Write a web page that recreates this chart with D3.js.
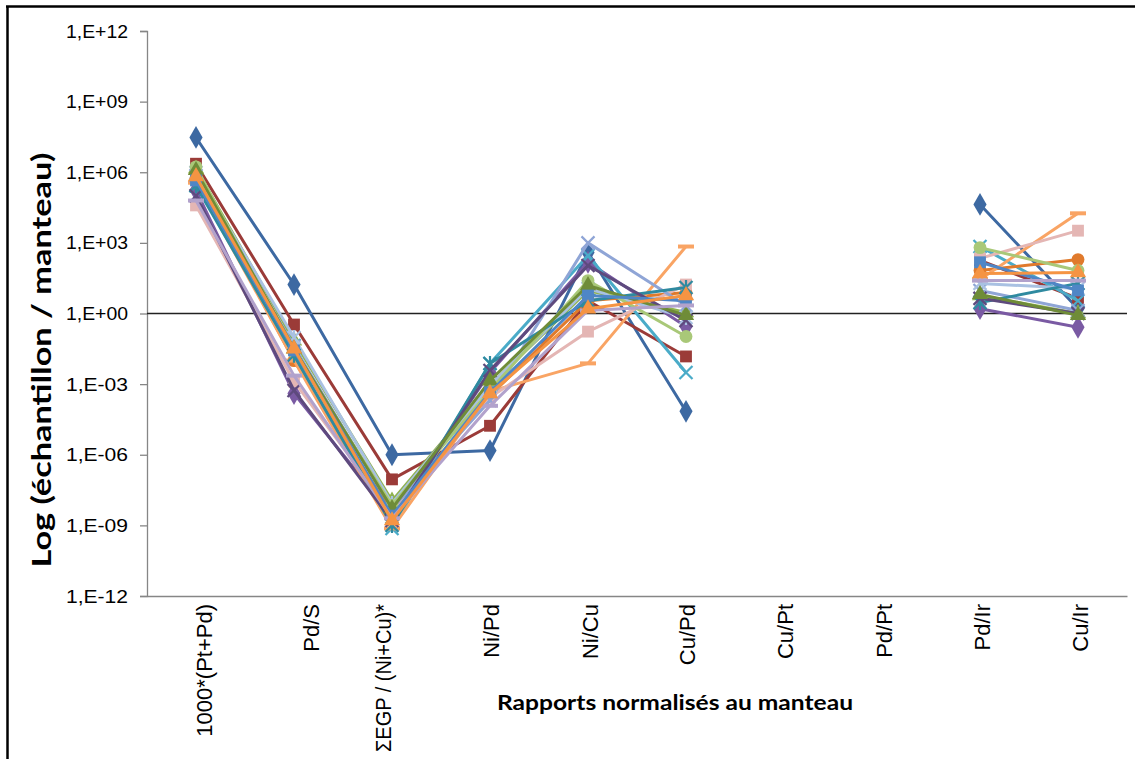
<!DOCTYPE html>
<html>
<head>
<meta charset="utf-8">
<script src="https://cdn.jsdelivr.net/npm/d3@7"></script>
<style>
  body { margin: 0; background: #fff; }
  svg { display: block; }
</style>
</head>
<body>
<div id="chart"></div>
<script>
// categories on the x axis
const categories = ["1000*(Pt+Pd)", "Pd/S", "ΣEGP / (Ni+Cu)*", "Ni/Pd", "Ni/Cu", "Cu/Pd", "Cu/Pt", "Pd/Pt", "Pd/Ir", "Cu/Ir"];

// y tick values and their labels
const yTicks = [1e-12, 1e-9, 1e-6, 1e-3, 1, 1e3, 1e6, 1e9, 1e12];
const yTickLabels = ["1,E-12", "1,E-09", "1,E-06", "1,E-03", "1,E+00", "1,E+03", "1,E+06", "1,E+09", "1,E+12"];

// one array per sample (Cu/Pt and Pd/Pt are empty)
const s01 = [3e7, 17, 1e-6, 1.5e-6, 390, 7e-5, null, null, 4.3e4, 1.6];
const s02 = [2.3e6, 0.34, 9e-8, 1.7e-5, 3.5, 0.015, null, null, 180, 4.4];
const s03 = [1.4e6, 0.07, 1.1e-8, 8.7e-4, 9.5, 1.1, null, null, 5.8, 1.0];
const s04 = [1.7e5, 4e-4, 2.6e-9, 3.1e-3, 150, 0.28, null, null, 1.6, 0.26];
const s05 = [2.7e5, 0.044, 7.4e-10, 7.5e-3, 290, 3.1e-3, null, null, 700, 3.5];
const s06 = [5.4e5, 0.01, 3.5e-9, 3.3e-4, 3.5, 7.8, null, null, 67, 195];
const s07 = [3.6e5, 0.01, 7.4e-10, 4.9e-4, 7.6e-3, 700, null, null, 28, 1.8e4];
const s08 = [3.9e4, 1.3e-3, 3.2e-9, 2.7e-4, 0.17, 17, null, null, 220, 3300];
const s09 = [7.2e5, 0.04, 5.2e-9, 2e-4, 1000, 2.2, null, null, 9.5, 1.35];
const s10 = [9.8e5, 0.095, 8.5e-9, 8.7e-4, 11.5, 0.68, null, null, 19, 11.5];
const s11 = [1.7e6, 0.022, 7.1e-9, 5.4e-4, 25, 0.105, null, null, 630, 67];
const s12 = [2.7e5, 0.017, 1e-9, 7.5e-3, 3.5, 12.6, null, null, 2.9, 19];
const s13 = [1e5, 5.4e-4, 1.6e-9, 3.8e-3, 110, 0.5, null, null, 4.4, 1];
const s14 = [1.2e6, 0.032, 5.2e-9, 1.4e-3, 15.5, 0.83, null, null, 6.5, 0.83];
const s15 = [4.5e5, 0.027, 2.6e-9, 4.5e-4, 5.8, 3.5, null, null, 150, 9.5];
const s16 = [6.3e4, 2.3e-3, 2e-9, 1.2e-4, 1.35, 2.2, null, null, 25, 25];
const s17 = [6.6e5, 0.032, 1.6e-9, 4e-4, 1.6, 5.8, null, null, 50, 55];

const seriesValues = [s01, s02, s03, s04, s05, s06, s07, s08, s09, s10, s11, s12, s13, s14, s15, s16, s17];

// look of each series (colour, marker)
const seriesStyle = [
  {color: "#3d69a2", marker: "diamond"},
  {color: "#9b3b38", marker: "square"},
  {color: "#8fb24f", marker: "triangle"},
  {color: "#7a5aa3", marker: "diamond"},
  {color: "#4aabc8", marker: "x"},
  {color: "#e07a2c", marker: "circle"},
  {color: "#f9a464", marker: "dash"},
  {color: "#e4b6b4", marker: "square"},
  {color: "#8fa5d6", marker: "x"},
  {color: "#a9c1e2", marker: "star"},
  {color: "#a9c878", marker: "circle"},
  {color: "#2f8aa0", marker: "star"},
  {color: "#5e4a7e", marker: "x"},
  {color: "#6f8c38", marker: "triangle"},
  {color: "#4f86c6", marker: "square"},
  {color: "#b2a2cc", marker: "dash"},
  {color: "#f59443", marker: "triangle"}
];

// small horizontal nudges of the rotated category labels, as in the original
const labelNudge = [8, 17, -9, 1, 2, 1, 1, 2, 2, 2];

const width = 1135;
const height = 759;
const plotLeft = 147, plotRight = 1127, plotTop = 31, plotBottom = 596;

const svg = d3.select("#chart")
  .append("svg")
  .attr("width", width)
  .attr("height", height);

// frame (top and left edges of the pasted chart)
svg.append("line")
  .attr("x1", 6).attr("x2", width).attr("y1", 6.5).attr("y2", 6.5)
  .attr("stroke", "#000").attr("stroke-width", 2.5);
svg.append("line")
  .attr("x1", 7.5).attr("x2", 7.5).attr("y1", 6).attr("y2", height)
  .attr("stroke", "#000").attr("stroke-width", 2.5);

const x = d3.scaleBand()
  .domain(categories)
  .range([plotLeft, plotRight]);

const y = d3.scaleLog()
  .domain([1e-12, 1e12])
  .range([plotBottom, plotTop]);

//////////////////////////////////////////////////////
// AXES
//////////////////////////////////////////////////////

const yAxis = svg.append("g")
  .attr("transform", `translate(${plotLeft},0)`)
  .call(d3.axisLeft(y)
    .tickValues(yTicks)
    .tickFormat((d, i) => yTickLabels[i])
    .tickSize(7)
    .tickPadding(12));

yAxis.select(".domain").attr("stroke", "#868686").attr("stroke-width", 1.3);
yAxis.selectAll(".tick line").attr("stroke", "#868686").attr("stroke-width", 1.3);
yAxis.selectAll(".tick text")
  .attr("fill", "#000")
  .attr("textLength", 62)
  .attr("lengthAdjust", "spacingAndGlyphs")
  .style("font-family", "Liberation Sans, Arial, sans-serif")
  .style("font-size", "19px");

const xAxis = svg.append("g")
  .attr("transform", `translate(0,${plotBottom})`)
  .call(d3.axisBottom(x).tickSize(0).tickPadding(0));

xAxis.select(".domain").attr("stroke", "#868686").attr("stroke-width", 1.3);
xAxis.selectAll(".tick text")
  .attr("transform", "rotate(-90)")
  .attr("text-anchor", "end")
  .attr("x", -8)
  .attr("y", (d, i) => labelNudge[i])
  .attr("dy", "0.36em")
  .attr("fill", "#000")
  .style("font-family", "Liberation Sans, Arial, sans-serif")
  .style("font-size", "22px");

// the long label runs to the bottom edge in the original; keep it inside
xAxis.selectAll(".tick text")
  .filter(d => d === categories[2])
  .attr("textLength", 148)
  .attr("lengthAdjust", "spacingAndGlyphs");

// reference line at 1
svg.append("line")
  .attr("x1", plotLeft).attr("x2", plotRight)
  .attr("y1", y(1)).attr("y2", y(1))
  .attr("stroke", "#222").attr("stroke-width", 1.5);

//////////////////////////////////////////////////////
// SERIES
//////////////////////////////////////////////////////

const cx = i => x(categories[i]) + x.bandwidth() / 2;

const line = d3.line()
  .defined(d => d != null)
  .x((d, i) => cx(i))
  .y(d => y(d));

function drawMarker(g, kind, color, px, py) {
  if (kind === "x" || kind === "star") {
    const r = 6.5;
    g.append("path")
      .attr("d", `M${px - r},${py - r}L${px + r},${py + r}M${px - r},${py + r}L${px + r},${py - r}` +
        (kind === "star" ? `M${px},${py - r - 1}L${px},${py + r + 1}` : ""))
      .attr("stroke", color).attr("stroke-width", 2.2).attr("fill", "none");
  } else if (kind === "dash") {
    g.append("path")
      .attr("d", `M${px - 8},${py}L${px + 8},${py}`)
      .attr("stroke", color).attr("stroke-width", 4);
  } else {
    const types = {diamond: d3.symbolDiamond, square: d3.symbolSquare, triangle: d3.symbolTriangle, circle: d3.symbolCircle};
    const sizes = {diamond: 150, square: 140, triangle: 115, circle: 130};
    g.append("path")
      .attr("transform", `translate(${px},${py})`)
      .attr("d", d3.symbol().type(types[kind]).size(sizes[kind])())
      .attr("fill", color);
  }
}

seriesValues.forEach((vals, si) => {
  const st = seriesStyle[si];
  const g = svg.append("g");

  g.append("path")
    .datum(vals)
    .attr("d", line)
    .attr("fill", "none")
    .attr("stroke", st.color)
    .attr("stroke-width", 3)
    .attr("stroke-linejoin", "round");

  vals.forEach((v, i) => {
    if (v == null) return;
    drawMarker(g, st.marker, st.color, cx(i), y(v));
  });
});

//////////////////////////////////////////////////////
// AXIS TITLES
//////////////////////////////////////////////////////

svg.append("text")
  .attr("transform", "translate(51,360) rotate(-90)")
  .attr("text-anchor", "middle")
  .attr("textLength", 415)
  .attr("lengthAdjust", "spacingAndGlyphs")
  .style("font-family", "Lato, Carlito, sans-serif")
  .style("font-weight", "bold")
  .style("font-size", "26px")
  .text("Log (échantillon / manteau)");

svg.append("text")
  .attr("x", 675)
  .attr("y", 710)
  .attr("text-anchor", "middle")
  .attr("textLength", 356)
  .attr("lengthAdjust", "spacingAndGlyphs")
  .style("font-family", "Lato, Carlito, sans-serif")
  .style("font-weight", "bold")
  .style("font-size", "21px")
  .text("Rapports normalisés au manteau");
</script>
</body>
</html>
